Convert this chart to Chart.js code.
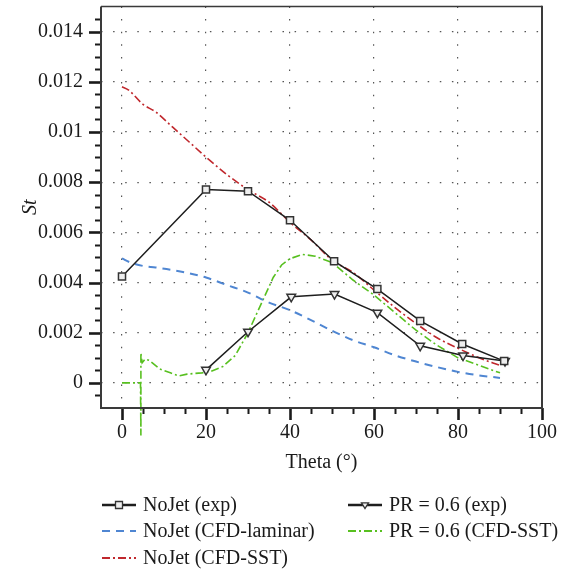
<!DOCTYPE html>
<html>
<head>
<meta charset="utf-8">
<script src="https://cdn.jsdelivr.net/npm/chart.js@4/dist/chart.umd.min.js"></script>
<style>
  html, body { margin: 0; padding: 0; background: #fff; }
</style>
</head>
<body>
<canvas id="chart" width="561" height="569"></canvas>
<script>
const FONT = '"Liberation Serif", "DejaVu Serif", serif';

// axis ticks
const xMajor = [0, 20, 40, 60, 80, 100];
const yMajor = [0, 0.002, 0.004, 0.006, 0.008, 0.01, 0.012, 0.014];

// NoJet (exp)
const thetaNoJetExp = [0, 20, 30, 40, 50.5, 60.8, 71, 81, 91];
const stNoJetExp = [0.00424, 0.00771, 0.00764, 0.00648, 0.00485, 0.00374, 0.00247, 0.00155, 0.00087];

// PR = 0.6 (exp)
const thetaPrExp = [20, 30, 40.3, 50.6, 60.8, 71, 81.2, 91.2];
const stPrExp = [0.00052, 0.00204, 0.00343, 0.00354, 0.0028, 0.00148, 0.00109, 0.00087];

// NoJet (CFD-laminar)
const thetaLaminar = [0, 2, 5, 8, 12, 16, 20, 25, 30, 35, 40, 45, 50, 55, 60, 65, 70, 75, 80, 85, 90];
const stLaminar = [0.00496, 0.0048, 0.00466, 0.0046, 0.0045, 0.00437, 0.0042, 0.0039, 0.0036, 0.0032, 0.0029,
  0.0025, 0.00208, 0.0017, 0.00142, 0.0011, 0.00085, 0.00063, 0.00044, 0.0003, 0.0002];

// NoJet (CFD-SST)
const thetaNoJetSst = [0, 1.5, 5, 8, 12, 16, 20, 25, 30, 35, 40, 45, 50, 55, 60, 65, 70, 75, 80, 85, 90];
const stNoJetSst = [0.0118, 0.01168, 0.0111, 0.0108, 0.0102, 0.0096, 0.009, 0.0083, 0.0077, 0.0072, 0.0064,
  0.0057, 0.0049, 0.0044, 0.0037, 0.003, 0.00237, 0.0018, 0.00138, 0.001, 0.0007];

// PR = 0.6 (CFD-SST)
const thetaPrSst = [0, 4.4, 4.5, 4.5, 4.8, 5.5, 6.5, 9, 11.5, 13.5, 15.5, 19, 21, 24, 27, 30, 33, 36, 38, 40,
  43, 46, 50, 55, 60, 65, 70, 75, 80, 85, 90];
const stPrSst = [0, 0, -0.0021, 0.0012, 0.0008, 0.00095, 0.0009, 0.00055, 0.0004, 0.00028, 0.00035, 0.0004,
  0.00045, 0.00065, 0.0011, 0.002, 0.0031, 0.0042, 0.0047, 0.00495, 0.00512, 0.00505, 0.0048, 0.0041, 0.0035,
  0.0028, 0.0021, 0.0015, 0.001, 0.0007, 0.0004];

function pts(xs, ys) {
  return xs.map((x, i) => ({ x, y: ys[i] }));
}

const datasets = [
  {
    label: "NoJet (exp)",
    data: pts(thetaNoJetExp, stNoJetExp),
    borderColor: "#1e1e1e",
    borderWidth: 1.5,
    pointStyle: "rect",
    pointRadius: 5,
    pointBackgroundColor: "#eeeeee",
    pointBorderColor: "#333",
    pointBorderWidth: 1.5,
    order: 0,
  },
  {
    label: "NoJet (CFD-laminar)",
    data: pts(thetaLaminar, stLaminar),
    borderColor: "#4f86d2",
    borderWidth: 2,
    borderDash: [8, 6],
    pointRadius: 0,
    cubicInterpolationMode: "monotone",
    order: 1,
  },
  {
    label: "NoJet (CFD-SST)",
    data: pts(thetaNoJetSst, stNoJetSst),
    borderColor: "#c0282d",
    borderWidth: 1.6,
    borderDash: [8, 3, 2, 3],
    pointRadius: 0,
    cubicInterpolationMode: "monotone",
    order: 1,
  },
  {
    label: "PR = 0.6 (exp)",
    data: pts(thetaPrExp, stPrExp),
    borderColor: "#1e1e1e",
    borderWidth: 1.5,
    pointStyle: "triangle",
    rotation: 180,
    pointRadius: 5,
    pointBackgroundColor: "#eeeeee",
    pointBorderColor: "#333",
    pointBorderWidth: 1.5,
    order: 0,
  },
  {
    label: "PR = 0.6 (CFD-SST)",
    data: pts(thetaPrSst, stPrSst),
    borderColor: "#58c020",
    borderWidth: 1.6,
    borderDash: [8, 3, 2, 3],
    pointRadius: 0,
    tension: 0,
    clip: false,
    order: 1,
  },
];

// legend slots: dataset index, x of line sample, row y
const legendSlots = [
  [0, 102, 505], [1, 102, 531], [2, 102, 558],
  [3, 348, 505], [4, 348, 531],
];

function drawMarker(ctx, ds, x, y, r) {
  if (!ds.pointStyle || !ds.pointRadius) return;
  ctx.save();
  ctx.setLineDash([]);
  ctx.fillStyle = ds.pointBackgroundColor;
  ctx.strokeStyle = ds.pointBorderColor;
  ctx.lineWidth = 1.3;
  ctx.beginPath();
  if (ds.pointStyle === "rect") {
    ctx.rect(x - r, y - r, 2 * r, 2 * r);
  } else {
    ctx.moveTo(x - r, y - r * 0.6);
    ctx.lineTo(x + r, y - r * 0.6);
    ctx.lineTo(x, y + r);
    ctx.closePath();
  }
  ctx.fill();
  ctx.stroke();
  ctx.restore();
}

const decorations = {
  id: "decorations",
  afterDraw(chart) {
    const { ctx, chartArea: a } = chart;
    const xs = chart.scales.x;
    const ys = chart.scales.y;
    ctx.save();

    // minor / major ticks
    ctx.strokeStyle = "#1a1a1a";
    for (let i = -1; i <= 29; i++) {
      const py = Math.round(ys.getPixelForValue(i * 0.0005)) + 0.5;
      const major = i % 4 === 0;
      ctx.lineWidth = major ? 2.6 : 2;
      ctx.beginPath();
      ctx.moveTo(a.left, py);
      ctx.lineTo(a.left - (major ? 12 : 6), py);
      ctx.stroke();
    }
    for (let i = 0; i <= 20; i++) {
      const px = Math.round(xs.getPixelForValue(i * 5)) + 0.5;
      const major = i % 4 === 0;
      ctx.lineWidth = major ? 2.6 : 2;
      ctx.beginPath();
      ctx.moveTo(px, a.bottom);
      ctx.lineTo(px, a.bottom + (major ? 12 : 6));
      ctx.stroke();
    }

    // frame
    ctx.strokeStyle = "#3a3a3a";
    ctx.lineWidth = 1.5;
    ctx.beginPath();
    ctx.moveTo(a.left, a.top);
    ctx.lineTo(a.right, a.top);
    ctx.stroke();
    ctx.lineWidth = 2;
    ctx.beginPath();
    ctx.moveTo(a.left, a.top);
    ctx.lineTo(a.left, a.bottom);
    ctx.lineTo(a.right, a.bottom);
    ctx.lineTo(a.right, a.top - 0.75);
    ctx.stroke();

    // legend
    ctx.font = "20px " + FONT;
    ctx.fillStyle = "#1a1a1a";
    ctx.textBaseline = "middle";
    legendSlots.forEach(([idx, lx, ly]) => {
      const ds = chart.data.datasets[idx];
      ctx.strokeStyle = ds.borderColor;
      ctx.lineWidth = ds.pointStyle ? 2.4 : 2.2;
      ctx.setLineDash(ds.borderDash || []);
      ctx.beginPath();
      ctx.moveTo(lx, ly);
      ctx.lineTo(lx + 34, ly);
      ctx.stroke();
      ctx.setLineDash([]);
      drawMarker(ctx, ds, lx + 17, ly, 3.5);
      ctx.fillText(ds.label, lx + 41, ly + 1);
    });
    ctx.restore();
  },
};

function noOverflow(s) {
  s.paddingTop = 0;
  s.paddingBottom = 0;
  s.paddingLeft = 0;
  s.paddingRight = 0;
}

new Chart(document.getElementById("chart"), {
  type: "line",
  data: { datasets },
  options: {
    responsive: false,
    animation: false,
    layout: { padding: { top: 6, right: 19, bottom: 89, left: 0 } },
    plugins: {
      legend: { display: false },
      tooltip: { enabled: false },
    },
    scales: {
      x: {
        type: "linear",
        min: -5,
        max: 100,
        afterBuildTicks: (s) => { s.ticks = xMajor.map((v) => ({ value: v })); },
        afterFit: (s) => { s.height = 72; noOverflow(s); },
        grid: { color: "#555", lineWidth: 1.2, drawTicks: false },
        border: { display: false, dash: [1.5, 11.1] },
        ticks: {
          padding: 13,
          color: "#1a1a1a",
          font: { family: FONT, size: 20 },
          maxRotation: 0,
        },
        title: {
          display: true,
          text: "Theta (°)",
          color: "#1a1a1a",
          font: { family: FONT, size: 20 },
          padding: { top: 0, bottom: 5 },
        },
      },
      y: {
        type: "linear",
        min: -0.001,
        max: 0.015,
        afterBuildTicks: (s) => { s.ticks = yMajor.map((v) => ({ value: v })); },
        afterFit: (s) => { s.width = 101; noOverflow(s); },
        grid: { color: "#555", lineWidth: 1.2, drawTicks: false },
        border: { display: false, dash: [1.5, 10.6] },
        ticks: {
          padding: 18,
          color: "#1a1a1a",
          font: { family: FONT, size: 20 },
          callback: (v) => String(+v.toFixed(3)),
        },
        title: {
          display: true,
          text: "St",
          color: "#1a1a1a",
          font: { family: FONT, size: 20, style: "italic" },
          padding: { top: 19, bottom: 0 },
        },
      },
    },
  },
  plugins: [decorations],
});
</script>
</body>
</html>
